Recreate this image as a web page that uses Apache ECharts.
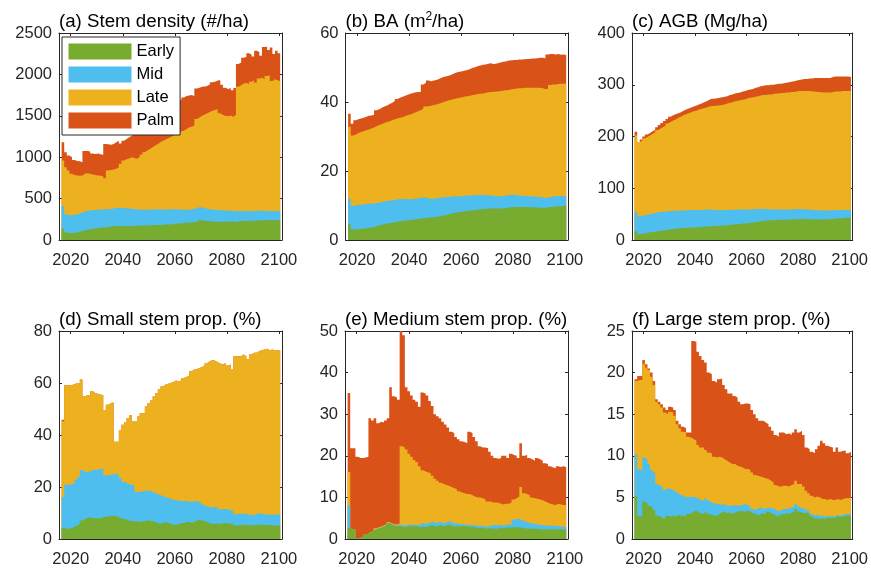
<!DOCTYPE html>
<html>
<head>
<meta charset="utf-8">
<script src="https://cdn.jsdelivr.net/npm/echarts@6/dist/echarts.min.js"></script>
<style>html,body{margin:0;padding:0;background:#fff}#c{width:871px;height:569px}</style>
</head>
<body>
<div id="c"></div>
<script>
// Yearly values 2017..2100 (84 values per array), cumulative top of each class
const firstDataYear = 2017;
const xMin = 2015.5, xMax = 2101.2;
const tickYears = [2020, 2040, 2060, 2080, 2100];
const classNames = ['Early', 'Mid', 'Late', 'Palm'];

// (a) Stem density (#/ha)
const densityEarly = [140,90,85,85,88,92,100,110,118,125, 130,135,140,145,148,150,155,158,162,165, 172,170,168,170,168,170,172,170,172,175, 175,178,176,178,180,182,180,182,185,188, 190,188,192,195,198,200,205,208,210,212, 215,220,240,238,232,228,225,222,220,222, 220,218,220,222,220,222,218,225,228,230, 232,230,228,232,235,238,235,240,242,240, 238,240,242,240];
const densityMid = [410,310,300,300,305,310,320,335,345,350, 355,360,362,365,368,370,372,370,375,380, 385,390,388,385,382,380,378,375,372,368, 365,368,366,365,368,370,368,370,368,366, 368,370,372,370,368,370,365,362,365,370, 375,385,395,392,385,378,372,368,365,362, 360,358,355,352,355,350,348,352,350,348, 350,352,348,350,352,355,352,350,348,352, 350,348,350,350];
const densityLate = [960,880,840,800,785,780,775,780,800,805, 800,790,785,780,775,770,745,840,845,850, 860,880,920,960,975,985,1000,990,980,1000, 1030,1060,1080,1100,1120,1140,1160,1180,1200,1215, 1230,1245,1260,1280,1300,1310,1320,1340,1360,1370, 1380,1460,1480,1500,1515,1530,1545,1560,1570,1580, 1530,1510,1500,1495,1505,1490,1510,1850,1870,1890, 1900,1880,1910,1930,1900,1950,1960,1940,1980,1990, 1920,1940,1930,1920];
const densityPalm = [1180,1060,1020,1000,965,955,950,940,1075,1075, 1070,1045,1040,1045,1035,1030,1160,1155,1150,1160, 1180,1200,1165,1200,1220,1240,1260,1280,1290,1300, 1290,1285,1310,1330,1360,1390,1420,1450,1480,1510, 1540,1570,1600,1630,1660,1690,1720,1740,1745,1750, 1740,1830,1840,1850,1855,1860,1880,1905,1910,1925, 1930,1875,1840,1825,1835,1810,1835,2125,2145,2200, 2210,2255,2240,2215,2285,2270,2225,2330,2335,2295, 2325,2245,2285,2255];

// (b) BA (m2/ha)
const baEarly = [4.6,3.1,3.1,3.1,3.2,3.3,3.4,3.5,3.6,3.8, 4.0,4.2,4.4,4.6,4.8,4.9,5.0,5.1,5.3,5.4, 5.5,5.6,5.7,5.8,5.9,6.0,6.1,6.2,6.3,6.4, 6.5,6.5,6.6,6.7,6.8,7.0,7.1,7.3,7.5,7.7, 7.8,8.0,8.1,8.2,8.3,8.4,8.5,8.6,8.7,8.8, 8.9,9.0,9.0,9.1,9.1,9.2,9.1,9.1,9.1,9.2, 9.3,9.4,9.5,9.6,9.6,9.6,9.6,9.6,9.6,9.5, 9.5,9.4,9.4,9.4,9.3,9.3,9.5,9.6,9.6,9.7, 9.8,9.8,9.9,9.9];
const baMid = [12.0,9.9,10.0,10.2,10.3,10.3,10.4,10.5,10.6,10.6, 10.7,10.8,11.0,11.2,11.3,11.4,11.5,11.6,11.8,11.8, 11.9,11.9,11.8,11.8,11.9,12.0,12.1,12.2,12.3,12.3, 12.1,11.9,12.0,12.1,12.2,12.3,12.4,12.5,12.5,12.6, 12.6,12.7,12.7,12.7,12.8,12.9,13.0,13.0,13.0,13.0, 13.0,13.1,13.0,13.0,12.9,12.8,12.7,12.7,12.7,12.8, 12.9,13.0,13.1,13.1,13.0,12.9,12.8,12.8,12.7,12.7, 12.6,12.6,12.5,12.5,12.3,12.2,12.3,12.5,12.7,12.7, 12.7,12.8,12.7,12.7];
const baLate = [32.8,30.3,30.6,31.0,31.3,31.5,31.8,32.0,32.3,32.6, 33.0,33.3,33.6,33.9,34.2,34.4,34.7,35.0,35.2,35.4, 35.6,35.9,36.2,36.4,36.7,37.0,37.3,37.6,38.1,38.7, 38.8,38.9,39.1,39.3,39.5,39.8,40.0,40.3,40.5,40.7, 40.9,41.1,41.2,41.4,41.6,41.7,41.8,42.0,42.1,42.3, 42.4,42.5,42.6,42.8,42.9,43.0,43.0,43.1,43.2,43.3, 43.4,43.5,43.7,43.8,43.9,44.0,44.0,44.1,44.1,44.1, 44.1,44.1,44.1,44.1,44.0,43.8,43.8,44.9,45.1,45.1, 45.2,45.3,45.3,45.3];
const baPalm = [36.6,33.7,34.7,35.0,35.2,35.4,35.7,36.0,36.1,36.3, 37.6,37.9,38.3,38.7,39.0,39.4,39.8,40.3,40.9,41.2, 41.5,41.8,42.1,42.4,42.6,42.8,42.9,42.9,45.1,45.6, 46.2,46.0,46.2,46.4,46.7,47.0,47.3,47.5,47.7,48.0, 48.3,48.6,48.8,48.9,49.1,49.3,49.6,49.9,50.1,50.4, 50.6,50.8,50.9,51.1,51.2,51.0,51.1,51.3,51.5,51.7, 51.8,52.0,52.1,52.2,52.2,52.3,52.3,52.4,52.5,52.5, 52.6,52.6,52.7,52.8,52.8,52.7,53.8,53.9,53.9,53.8, 53.9,53.7,53.8,53.6];

// (c) AGB (Mg/ha)
const agbEarly = [17,11,12,13,14,15,15,16,17,18, 18,19,20,21,21,22,22,23,23,23, 24,24,24,24,25,25,26,26,26,27, 27,27,28,28,28,29,29,30,30,31, 31,32,32,33,33,34,35,35,36,37, 37,38,38,38,38,39,39,39,39,39, 40,40,40,40,40,41,40,40,40,40, 40,40,39,40,40,40,41,41,42,42, 42,43,43,43];
const agbMid = [55,46,47,48,49,50,51,52,53,54, 54,55,55,56,56,56,57,57,57,57, 58,58,58,58,58,58,58,59,59,59, 58,58,58,58,58,58,58,58,59,59, 59,59,59,59,59,59,60,60,60,60, 60,60,59,59,59,59,59,59,59,59, 59,59,60,60,60,59,59,59,58,58, 58,57,57,57,57,57,57,58,58,58, 58,58,58,58];
const agbLate = [202,189,192,196,199,202,205,208,212,215, 218,221,225,228,231,233,236,238,241,243, 245,247,249,250,252,253,255,256,258,259, 259,260,260,261,262,264,265,266,268,269, 270,271,272,274,275,276,277,278,279,280, 280,281,281,282,283,283,284,284,285,285, 286,286,287,288,288,288,288,288,287,287, 286,286,285,285,285,285,286,287,287,287, 288,288,288,288];
const agbPalm = [209,188,194,200,204,207,210,213,218,222, 226,230,234,238,241,243,245,247,250,252, 254,256,258,260,262,264,266,268,271,273, 273,274,275,276,277,278,280,281,283,284, 285,287,288,290,291,292,294,295,297,298, 299,299,300,300,301,302,302,303,304,305, 306,307,308,309,310,311,311,312,312,313, 313,313,313,313,313,313,315,316,316,316, 316,316,316,315];

// (d) Small stem prop. (%)
const smallEarly = [4.3,3.9,3.9,4.1,4.8,5.2,5.8,7.1,7.7,8.1, 8.4,8.0,8.0,8.0,8.0,8.4,8.6,8.6,9.0,8.8, 8.8,8.4,7.9,7.7,7.5,7.1,6.8,6.8,6.7,6.5, 6.7,6.8,7.1,7.1,6.8,6.5,6.1,5.8,6.2,6.5, 6.2,5.8,5.5,5.5,5.8,6.1,6.2,6.5,6.5,6.2, 6.5,7.1,7.4,7.1,6.8,6.5,6.2,5.8,5.8,6.1, 5.8,6.1,6.2,6.1,5.8,6.1,5.2,5.2,5.4,5.5, 5.4,5.4,5.4,5.2,5.4,5.5,5.5,5.4,5.4,5.4, 5.2,5.2,5.2,5.2];
const smallMid = [16.1,20.9,21.0,21.0,21.5,22.8,23.9,26.5,25.8,25.8, 26.1,26.5,26.5,26.7,26.8,27.1,24.5,24.4,24.8,24.9, 25.2,24.5,23.6,21.9,21.7,21.0,20.9,20.6,18.1,18.1, 18.3,18.7,18.5,18.7,18.1,17.7,17.2,16.8,16.5,16.1, 15.9,15.5,15.1,14.8,14.8,14.6,14.5,14.6,14.5,14.2, 14.5,14.5,14.2,13.5,12.9,12.5,12.3,12.0,12.3,12.3, 11.4,11.4,11.5,11.4,11.0,11.0,9.4,9.7,9.7,9.7, 9.7,9.3,9.3,9.0,9.7,9.9,9.7,9.4,9.4,9.4, 9.3,9.4,9.4,9.4];
const smallLate = [45.3,59.1,59.1,59.2,59.5,60.0,60.0,61.3,54.8,55.4, 55.1,56.8,56.1,55.9,55.5,55.4,49.4,51.6,52.3,52.5, 37.4,37.4,41.7,43.9,44.8,46.5,47.7,45.2,45.2,47.1, 48.4,48.4,51.0,52.3,53.3,54.8,56.1,57.7,58.7,59.4, 59.7,60.0,60.4,61.0,60.6,61.0,61.9,62.3,62.8,64.5, 65.2,65.4,65.8,66.2,66.7,67.7,68.4,68.8,68.6,68.0, 67.5,67.1,67.7,66.7,67.1,65.2,70.3,70.3,70.3,71.0, 70.3,69.0,71.0,71.6,71.6,72.3,72.6,72.9,73.2,72.6, 72.9,72.5,72.6,72.5];
const smallPalm = [45.9,59.1,59.1,59.2,59.5,60.0,60.0,61.3,54.8,55.4, 55.1,56.8,56.1,55.9,55.5,55.4,49.4,51.6,52.3,52.5, 37.4,37.4,41.7,43.9,44.8,46.5,47.7,45.2,45.2,47.1, 48.4,48.4,51.0,52.3,53.3,54.8,56.1,57.7,58.7,59.4, 59.7,60.0,60.4,61.0,60.6,61.0,61.9,62.3,62.8,64.5, 65.2,65.4,65.8,66.2,66.7,67.7,68.4,68.8,68.6,68.0, 67.5,67.1,67.7,66.7,67.1,65.2,70.3,70.3,70.3,71.0, 70.3,69.0,71.0,71.6,71.6,72.3,72.6,72.9,73.2,72.6, 72.9,72.5,72.6,72.5];

// (e) Medium stem prop. (%)
const mediumEarly = [2.7,2.3,2.2,0.2,0.0,0.5,1.0,1.3,1.7,2.0, 2.3,2.5,2.7,3.0,3.3,3.8,3.5,3.3,3.0,3.2, 3.0,2.8,3.0,3.2,3.0,3.2,3.0,2.8,3.0,2.8, 3.0,3.2,3.5,3.0,3.2,3.3,3.0,3.2,3.5,3.2, 3.0,3.2,3.0,3.2,3.1,3.0,2.9,3.0,2.8,2.7, 2.6,2.7,2.5,2.5,2.6,2.5,2.4,2.6,2.7,2.6, 2.7,2.8,2.7,2.8,2.9,2.8,2.7,2.6,2.5,2.5, 2.4,2.5,2.4,2.4,2.3,2.4,2.3,2.3,2.4,2.3, 2.3,2.4,2.3,2.3];
const mediumMid = [8.1,2.3,2.2,0.2,0.0,0.5,1.0,1.3,1.7,2.0, 2.4,2.6,2.8,3.1,3.4,3.9,3.6,3.4,3.2,3.4, 3.4,3.2,3.4,3.5,3.4,3.5,3.4,3.3,3.8,3.6, 3.8,4.0,4.2,3.8,4.0,4.1,3.8,3.9,4.3,4.0, 3.7,3.8,3.6,3.6,3.5,3.4,3.3,3.4,3.3,3.2, 3.1,3.2,3.0,3.0,3.2,3.4,3.3,3.4,3.3,3.2, 3.4,3.5,3.6,4.6,4.8,4.8,4.5,4.3,4.0,3.9, 3.7,3.6,3.5,3.5,3.3,3.3,3.2,3.2,3.3,3.1, 3.1,3.0,3.0,2.9];
const mediumLate = [16.1,2.3,2.2,0.2,0.0,0.5,1.0,1.3,1.7,2.0, 2.6,2.8,3.0,3.3,3.6,4.1,3.8,3.6,3.5,3.7, 22.3,22.0,21.5,20.5,19.8,19.0,18.5,17.5,16.5,16.2, 16.0,15.8,15.2,14.5,14.0,13.5,13.2,13.0,12.8,12.5, 12.2,12.0,11.5,11.2,11.0,10.8,10.8,10.5,10.2,10.0, 10.0,9.8,9.5,9.0,9.0,8.8,8.8,8.7,8.5,8.3, 8.5,8.5,8.8,9.5,9.8,10.2,12.5,11.0,10.8,10.5, 10.0,9.8,9.7,9.5,9.3,9.0,8.7,8.5,8.3,8.2, 8.5,8.3,8.2,8.1];
const mediumPalm = [35.1,21.8,21.8,19.8,19.5,19.5,19.6,19.8,29.0,28.5, 29.0,27.8,28.2,28.0,28.5,29.0,36.5,34.3,34.0,33.5, 50.0,49.0,36.5,35.5,34.5,33.5,33.0,31.8,35.2,35.0, 34.5,33.2,32.0,30.0,29.5,29.0,28.2,27.5,26.8,25.8, 25.5,24.5,24.0,23.5,23.3,23.0,25.8,25.5,24.5,23.5, 22.3,22.0,22.0,21.8,21.0,20.0,19.5,19.3,19.5,20.0, 20.0,19.5,20.5,20.2,20.0,19.5,23.0,20.0,20.2,19.5, 19.2,18.8,19.5,19.2,18.8,18.2,18.0,17.5,17.2,17.0, 17.5,17.3,17.5,17.3];

// (f) Large stem prop. (%)
const largeEarly = [5.2,2.8,2.6,4.5,4.3,4.0,3.8,3.5,2.8,2.7, 2.5,2.5,2.8,2.7,2.8,2.7,2.9,2.8,2.8,2.7, 3.0,3.1,3.3,3.4,3.2,3.0,3.1,3.3,3.0,2.9, 2.8,2.8,3.0,3.2,3.3,3.1,3.2,3.0,3.2,3.3, 3.4,3.3,3.3,3.4,3.3,3.1,3.0,2.8,3.0,3.1, 3.0,3.3,3.1,3.0,2.8,2.6,2.9,3.0,3.1,3.0, 3.2,3.3,3.6,3.3,3.2,3.1,3.2,3.0,2.7,2.5, 2.5,2.4,2.5,2.4,2.6,2.5,2.6,2.4,2.7,2.6, 2.7,2.8,2.8,2.8];
const largeMid = [10.2,8.4,8.2,9.8,9.6,9.0,8.3,8.0,6.6,6.4, 6.2,5.9,6.1,6.0,5.9,5.7,5.5,5.3,5.2,5.0, 5.1,5.0,5.1,5.0,4.8,4.7,4.6,4.9,4.6,4.4, 4.3,4.2,4.2,4.1,4.2,4.0,4.0,4.0,4.1,4.0, 4.0,4.1,4.2,4.1,3.9,3.6,3.5,3.7,3.8,3.6, 3.7,3.8,3.7,3.7,3.5,3.3,3.5,3.6,3.6,3.7, 3.8,3.9,4.2,3.9,3.7,3.6,3.5,3.3,3.0,2.8, 2.9,2.8,2.8,2.7,2.8,2.7,2.8,2.7,2.9,2.8, 2.9,3.0,3.0,3.0];
const largeLate = [19.0,19.1,19.1,21.0,20.6,20.3,19.5,18.5,16.5,16.2, 15.8,15.2,15.0,15.3,15.2,14.8,13.8,13.3,12.9,12.8, 12.3,12.2,12.0,11.8,11.3,11.0,11.0,10.7,10.4,10.3, 9.9,9.8,9.9,9.8,9.6,9.4,9.2,9.0,9.0,8.8, 8.7,8.6,8.4,8.4,8.3,8.0,7.7,7.6,7.5,7.4, 7.3,7.2,7.0,6.8,6.5,6.3,6.3,6.4,6.4,6.3, 6.5,6.6,7.0,6.6,6.6,6.3,5.8,5.5,5.2,5.0, 5.1,5.0,4.8,4.8,4.7,4.8,4.7,4.7,4.8,4.7, 4.8,4.9,4.9,5.0];
const largePalm = [19.2,19.6,19.6,21.5,21.0,20.5,20.0,19.0,16.8,16.5, 16.2,15.8,15.5,15.9,15.8,15.5,14.2,13.8,13.5,13.3, 12.8,12.8,23.8,23.7,22.5,22.0,21.5,21.2,20.0,19.8, 19.0,18.8,19.2,19.3,18.5,18.0,17.5,17.5,17.2,17.0, 16.5,16.2,16.3,16.3,16.2,15.5,15.0,14.5,14.2,14.2, 14.0,13.8,13.5,13.0,12.5,12.3,12.8,12.8,12.6,12.7, 12.5,12.8,13.2,12.8,13.0,12.5,11.0,10.8,10.5,10.3, 10.8,11.2,11.8,11.5,11.2,11.1,11.0,10.5,11.0,10.5, 10.6,10.6,10.3,10.5];

// ---------- chart construction ----------
// each yearly value is a 1-year-wide step centred on its year (bar edges at year +/- 0.5)
const toSteps = a => a.map((v, i) => [firstDataYear - 0.5 + i, v])
  .concat([[firstDataYear - 0.5 + a.length, a[a.length - 1]]]);

const FONT = '"Liberation Sans", Arial, Helvetica, sans-serif';
const AX = '#262626';
const COLORS = { Early: '#77AC30', Mid: '#4DBEEE', Late: '#EDB120', Palm: '#D95319' };

const panels = [
  { title: '(a) Stem density (#/ha)', grid: { left: 59, top: 33, width: 223, height: 207 }, max: 2500, interval: 500,
    data: { Early: densityEarly, Mid: densityMid, Late: densityLate, Palm: densityPalm } },
  { title: '(b) BA (m{sup|2}/ha)', grid: { left: 345.5, top: 33, width: 222.5, height: 207 }, max: 60, interval: 20,
    data: { Early: baEarly, Mid: baMid, Late: baLate, Palm: baPalm } },
  { title: '(c) AGB (Mg/ha)', grid: { left: 632, top: 33, width: 222, height: 207 }, max: 400, interval: 100,
    data: { Early: agbEarly, Mid: agbMid, Late: agbLate, Palm: agbPalm } },
  { title: '(d) Small stem prop. (%)', grid: { left: 59, top: 331, width: 223, height: 208 }, max: 80, interval: 20,
    data: { Early: smallEarly, Mid: smallMid, Late: smallLate, Palm: smallPalm } },
  { title: '(e) Medium stem prop. (%)', grid: { left: 345, top: 331, width: 223, height: 208 }, max: 50, interval: 10,
    data: { Early: mediumEarly, Mid: mediumMid, Late: mediumLate, Palm: mediumPalm } },
  { title: '(f) Large stem prop. (%)', grid: { left: 632, top: 331, width: 222, height: 208 }, max: 25, interval: 5,
    data: { Early: largeEarly, Mid: largeMid, Late: largeLate, Palm: largePalm } }
];

const grids = [], xAxes = [], yAxes = [], titles = [], series = [];
panels.forEach((p, i) => {
  grids.push(Object.assign({ containLabel: false }, p.grid));
  titles.push({
    text: p.title, left: p.grid.left, top: p.grid.top - 22, padding: 0,
    textStyle: { fontFamily: FONT, fontSize: 18.7, fontWeight: 'normal', color: '#000', lineHeight: 22,
      rich: { sup: { fontFamily: FONT, fontSize: 12, lineHeight: 13, verticalAlign: 'top', color: '#000' } } }
  });
  ['bottom', 'top'].forEach(pos => {
    xAxes.push({
      type: 'value', gridIndex: i, position: pos, min: xMin, max: xMax,
      axisLine: { show: true, onZero: false, lineStyle: { color: AX, width: 1 } },
      axisTick: { show: true, inside: true, length: 3, customValues: tickYears, lineStyle: { color: AX } },
      axisLabel: { show: pos === 'bottom', customValues: tickYears, fontFamily: FONT, fontSize: 16.5, color: AX,
        margin: 12, formatter: v => String(v) },
      splitLine: { show: false }
    });
  });
  ['left', 'right'].forEach(pos => {
    yAxes.push({
      type: 'value', gridIndex: i, position: pos, min: 0, max: p.max, interval: p.interval,
      axisLine: { show: true, onZero: false, lineStyle: { color: AX, width: 1 } },
      axisTick: { show: true, inside: true, length: 3, lineStyle: { color: AX } },
      axisLabel: { show: pos === 'left', fontFamily: FONT, fontSize: 16.5, color: AX, margin: 7,
        formatter: v => String(v) },
      splitLine: { show: false }
    });
  });
  // cumulative tops drawn back to front: Palm (total) first, Early last
  ['Palm', 'Late', 'Mid', 'Early'].forEach(k => {
    series.push({
      type: 'line', name: k, xAxisIndex: 2 * i, yAxisIndex: 2 * i,
      data: toSteps(p.data[k]), step: 'end', showSymbol: false, symbol: 'none',
      lineStyle: { width: 0, color: COLORS[k] },
      areaStyle: { color: COLORS[k], opacity: 1, origin: 'start' },
      itemStyle: { color: COLORS[k] },
      silent: true
    });
  });
});

const chart = echarts.init(document.getElementById('c'), null, { renderer: 'canvas' });
chart.setOption({
  animation: false,
  backgroundColor: '#fff',
  title: titles,
  grid: grids,
  xAxis: xAxes,
  yAxis: yAxes,
  legend: {
    data: classNames.map(n => ({ name: n, icon: 'rect', itemStyle: { color: COLORS[n] } })),
    orient: 'vertical', left: 62, top: 37,
    itemWidth: 63, itemHeight: 16, itemGap: 6, padding: [6, 6, 6, 6.5],
    borderColor: AX, borderWidth: 1, borderRadius: 0, backgroundColor: '#fff',
    selectedMode: false, z: 10,
    textStyle: { fontFamily: FONT, fontSize: 16.5, color: '#000' }
  },
  series: series
});
</script>
</body>
</html>
